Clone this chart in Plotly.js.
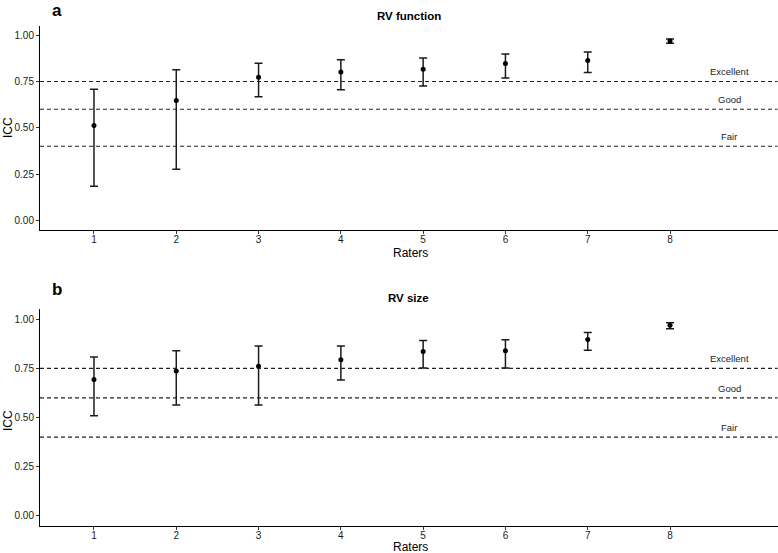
<!DOCTYPE html>
<html>
<head>
<meta charset="utf-8">
<script src="https://cdn.plot.ly/plotly-3.0.1.min.js"></script>
<style>html,body{margin:0;padding:0;background:#fff}#chart{width:778px;height:553px}</style>
</head>
<body>
<div id="chart"></div>
<script>
// ---- data ----
const raters = [1, 2, 3, 4, 5, 6, 7, 8];
const tickLabels = ['1', '2', '3', '4', '5', '6', '7', '8'];

// Panel a: RV function (ICC and 95% CI)
const fnICC   = [0.512, 0.647, 0.773, 0.802, 0.816, 0.847, 0.863, 0.969];
const fnUpper = [0.708, 0.813, 0.849, 0.867, 0.877, 0.899, 0.910, 0.980];
const fnLower = [0.184, 0.276, 0.667, 0.706, 0.726, 0.769, 0.798, 0.957];

// Panel b: RV size (ICC and 95% CI)
const szICC   = [0.693, 0.737, 0.761, 0.793, 0.835, 0.839, 0.897, 0.969];
const szUpper = [0.808, 0.839, 0.864, 0.864, 0.891, 0.895, 0.932, 0.981];
const szLower = [0.509, 0.564, 0.564, 0.691, 0.752, 0.752, 0.842, 0.951];

// Reliability thresholds
const thresholds = [0.75, 0.60, 0.40];
const thresholdLabels = ['Excellent', 'Good', 'Fair'];
const labelX = 8.72;

const panelTitles = ['RV function', 'RV size'];
const panelLetters = ['a', 'b'];

// ---- build ----
const W = 778, H = 553;
const FONT = 'Liberation Sans, Arial, Helvetica, sans-serif';
const xDom = [40 / W, 777.5 / W];
const yDomA = [(H - 229.5) / H, (H - 26) / H];
const yDomB = [(H - 525.7) / H, (H - 309.3) / H];

function mkTrace(y, up, lo, xa, ya) {
  return {
    type: 'scatter', mode: 'markers', x: raters, y: y, xaxis: xa, yaxis: ya,
    marker: {color: '#000', size: 5},
    error_y: {type: 'data', symmetric: false,
      array: up.map((u, i) => u - y[i]),
      arrayminus: lo.map((l, i) => y[i] - l),
      color: '#1a1a1a', thickness: 1.5, width: 4},
    showlegend: false, hoverinfo: 'x+y'
  };
}

const data = [
  mkTrace(fnICC, fnUpper, fnLower, 'x', 'y'),
  mkTrace(szICC, szUpper, szLower, 'x2', 'y2')
];

function xAxis(dom, anchor) {
  return {domain: dom, anchor: anchor, range: [0.344, 9.306],
    tickmode: 'array', tickvals: raters, ticktext: tickLabels,
    showgrid: false, zeroline: false, showline: true, linecolor: '#000', linewidth: 1,
    ticks: 'outside', ticklen: 3, tickcolor: '#333', tickwidth: 1, ticklabelstandoff: -3,
    tickfont: {family: FONT, size: 10, color: '#1a1a1a'}};
}
function yAxis(dom, anchor) {
  return {domain: dom, anchor: anchor, range: [-0.05, 1.05],
    tickvals: [0, 0.25, 0.5, 0.75, 1], ticktext: ['0.00', '0.25', '0.50', '0.75', '1.00'],
    showgrid: false, zeroline: false, showline: true, linecolor: '#000', linewidth: 1,
    ticks: 'outside', ticklen: 3, tickcolor: '#333', tickwidth: 1,
    tickfont: {family: FONT, size: 10, color: '#1a1a1a'}};
}

const shapes = [];
const annotations = [];
[['x', 'y'], ['x2', 'y2']].forEach(([xa, ya]) => {
  const xref = xa + ' domain';
  thresholds.forEach((t, i) => {
    shapes.push({type: 'line', xref: xref, yref: ya, x0: 0, x1: 1, y0: t, y1: t,
      line: {color: '#222', width: 1.2, dash: '4px,3px'}});
    annotations.push({xref: xa, yref: ya, x: labelX, y: t, text: thresholdLabels[i],
      showarrow: false, yanchor: 'middle', yshift: 9.5,
      font: {family: FONT, size: 9.5, color: '#222'}});
  });
});

// panel titles, letters, axis titles
const titleY = [H - 16, H - 298];
const letterY = [H - 10.5, H - 289.5];
const ratersY = [H - 252.5, H - 546.5];
const iccY = [H - 127, H - 420];
[0, 1].forEach(p => {
  annotations.push({xref: 'paper', yref: 'paper', x: (40 + 777.5) / 2 / W, y: titleY[p] / H,
    text: '<b>' + panelTitles[p] + '</b>', showarrow: false, xanchor: 'center', yanchor: 'middle',
    font: {family: FONT, size: 11.5, color: '#000'}});
  annotations.push({xref: 'paper', yref: 'paper', x: 57 / W, y: letterY[p] / H,
    text: '<b>' + panelLetters[p] + '</b>', showarrow: false, xanchor: 'center', yanchor: 'middle',
    font: {family: FONT, size: 17, color: '#000'}});
  annotations.push({xref: 'paper', yref: 'paper', x: 410 / W, y: ratersY[p] / H,
    text: 'Raters', showarrow: false, xanchor: 'center', yanchor: 'middle',
    font: {family: FONT, size: 12, color: '#000'}});
  annotations.push({xref: 'paper', yref: 'paper', x: 8 / W, y: iccY[p] / H,
    text: 'ICC', showarrow: false, textangle: -90, xanchor: 'center', yanchor: 'middle',
    font: {family: FONT, size: 12, color: '#000'}});
});

const layout = {
  width: W, height: H, margin: {l: 0, r: 0, t: 0, b: 0},
  paper_bgcolor: '#fff', plot_bgcolor: '#fff',
  xaxis: xAxis(xDom, 'y'), yaxis: yAxis(yDomA, 'x'),
  xaxis2: xAxis(xDom, 'y2'), yaxis2: yAxis(yDomB, 'x2'),
  shapes: shapes, annotations: annotations, showlegend: false
};

Plotly.newPlot('chart', data, layout, {displayModeBar: false, staticPlot: true});
</script>
</body>
</html>
